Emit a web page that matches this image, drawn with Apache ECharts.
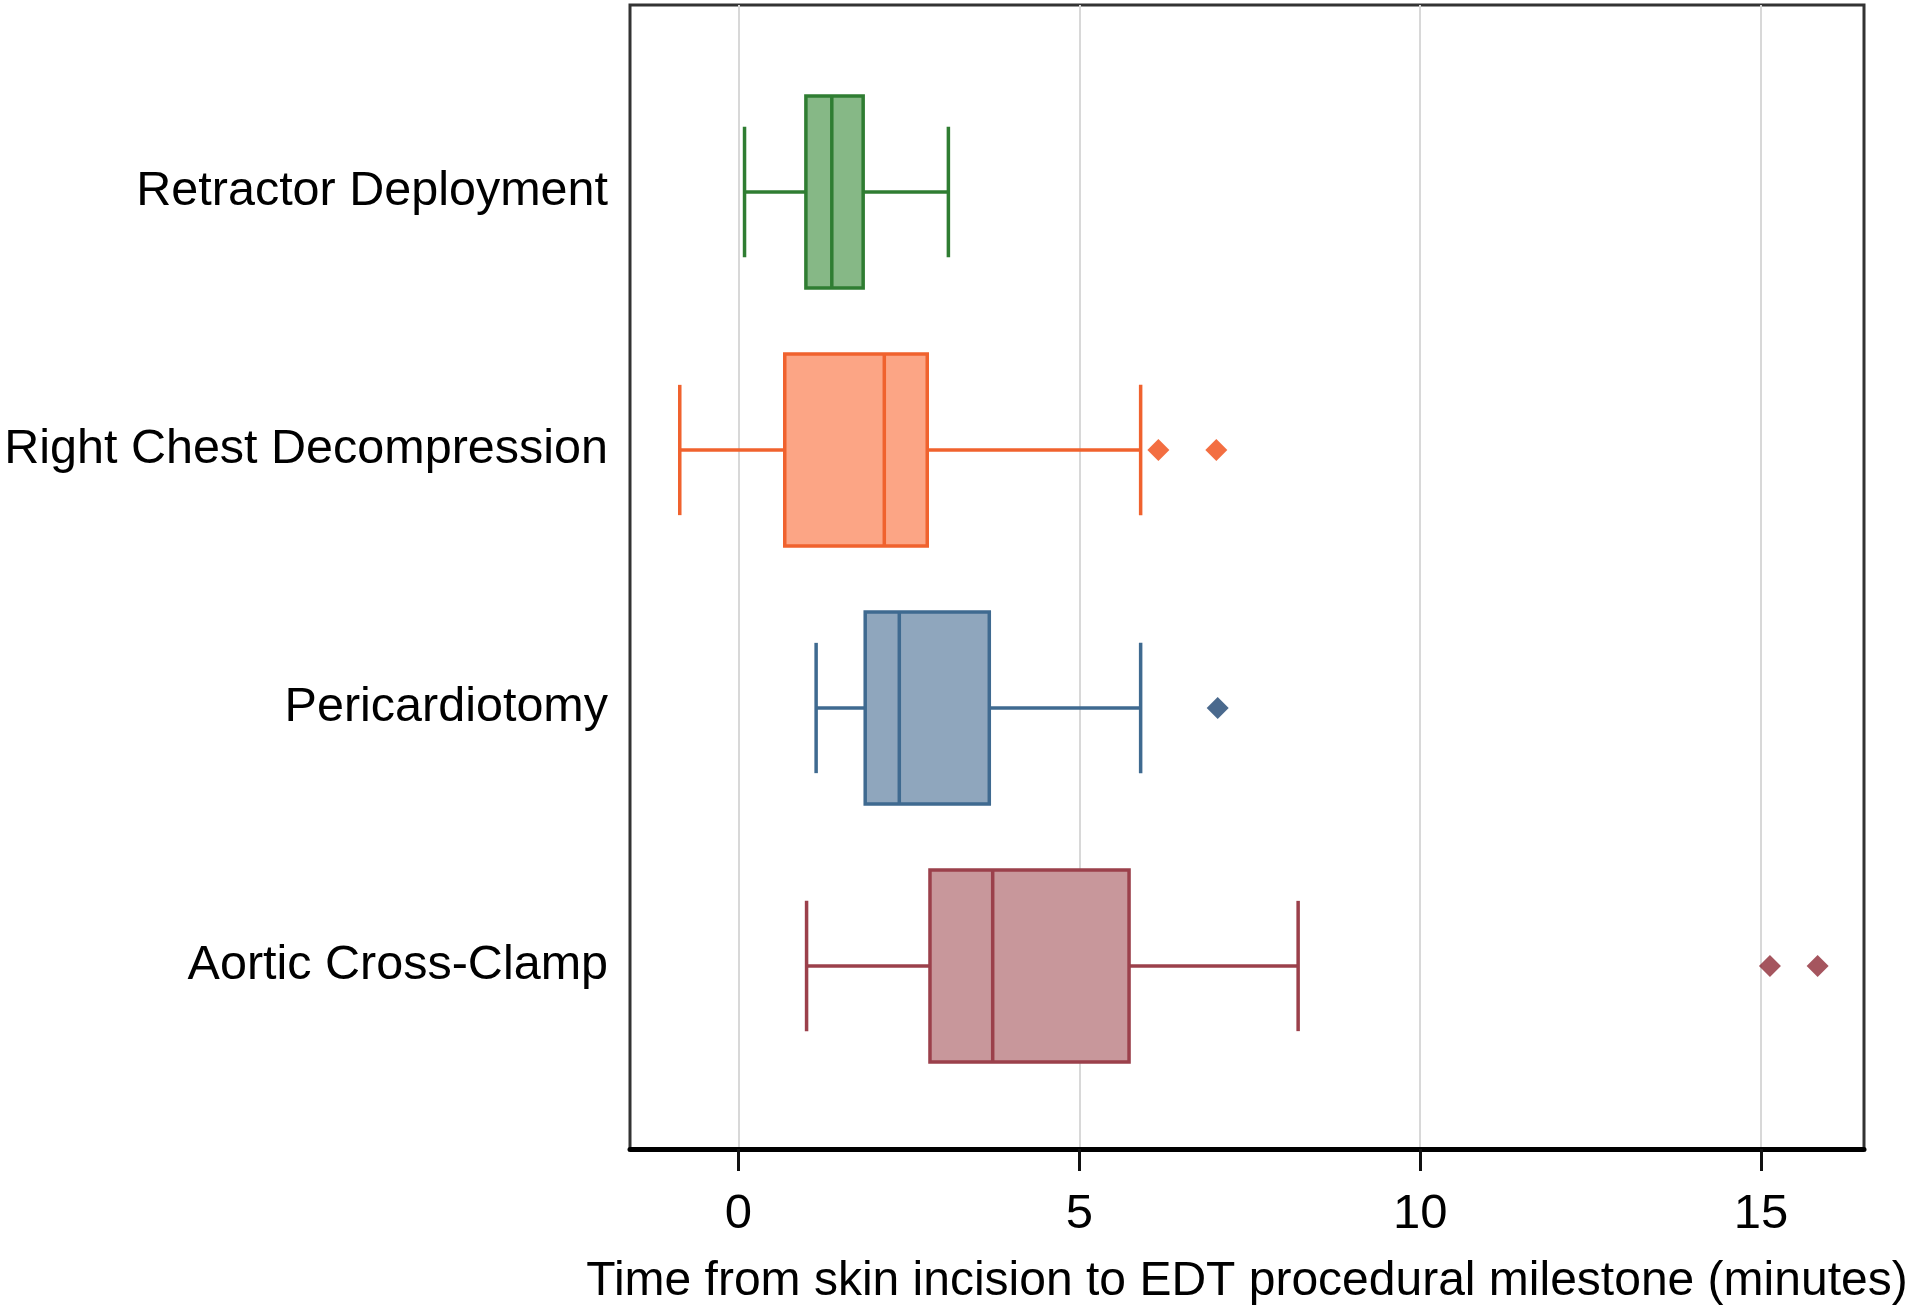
<!DOCTYPE html>
<html>
<head>
<meta charset="utf-8">
<script src="https://cdn.jsdelivr.net/npm/echarts@6/dist/echarts.min.js"></script>
<style>
html,body{margin:0;padding:0;background:#fff;}
#chart{width:1920px;height:1313px;}
</style>
</head>
<body>
<div id="chart"></div>
<script>
// ---- data ----
var categories = ['Retractor Deployment', 'Right Chest Decompression', 'Pericardiotomy', 'Aortic Cross-Clamp'];
var lowWhisker = [0.09, -0.86, 1.14, 1.00];
var q1 = [0.99, 0.68, 1.86, 2.81];
var median = [1.37, 2.14, 2.36, 3.73];
var q3 = [1.83, 2.77, 3.68, 5.73];
var highWhisker = [3.08, 5.90, 5.90, 8.21];
var outlierCat = [1, 1, 2, 3, 3];
var outlierVal = [6.16, 7.01, 7.03, 15.13, 15.83];
var xTicks = [0, 5, 10, 15];
var xTitle = 'Time from skin incision to EDT procedural milestone (minutes)';

// ---- styles ----
var fillColors = ['#86b886', '#fca585', '#8fa6bd', '#c8979b'];
var strokeColors = ['#2f7d32', '#f0622e', '#3f6a90', '#9b404b'];
var outlierColors = ['#2f7d32', '#f04a12', '#1d4470', '#8e2a36'];

var xMin = -1.59, xMax = 16.51;
var FONT = 'Liberation Sans, Arial, sans-serif';

var boxData = categories.map(function (c, i) {
  return [i, lowWhisker[i], q1[i], median[i], q3[i], highWhisker[i]];
});
var outlierData = outlierVal.map(function (v, i) {
  return { value: [v, outlierCat[i]], itemStyle: { color: outlierColors[outlierCat[i]] } };
});

function renderBox(params, api) {
  var ci = api.value(0);
  var idx = params.dataIndex;
  var pLow = api.coord([api.value(1), ci]);
  var pQ1 = api.coord([api.value(2), ci]);
  var pMed = api.coord([api.value(3), ci]);
  var pQ3 = api.coord([api.value(4), ci]);
  var pHigh = api.coord([api.value(5), ci]);
  var band = api.size([0, 1])[1];
  var boxH = band * 0.745;
  var capH = band * 0.505;
  var cy = pMed[1];
  var stroke = strokeColors[idx];
  var lw = 3.5;
  var ls = { stroke: stroke, lineWidth: lw };
  return {
    type: 'group',
    children: [
      { type: 'line', shape: { x1: pLow[0], y1: cy, x2: pQ1[0], y2: cy }, style: ls },
      { type: 'line', shape: { x1: pQ3[0], y1: cy, x2: pHigh[0], y2: cy }, style: ls },
      { type: 'line', shape: { x1: pLow[0], y1: cy - capH / 2, x2: pLow[0], y2: cy + capH / 2 }, style: ls },
      { type: 'line', shape: { x1: pHigh[0], y1: cy - capH / 2, x2: pHigh[0], y2: cy + capH / 2 }, style: ls },
      { type: 'rect', shape: { x: pQ1[0], y: cy - boxH / 2, width: pQ3[0] - pQ1[0], height: boxH },
        style: { fill: fillColors[idx], stroke: stroke, lineWidth: lw } },
      { type: 'line', shape: { x1: pMed[0], y1: cy - boxH / 2, x2: pMed[0], y2: cy + boxH / 2 }, style: ls }
    ]
  };
}

var chart = echarts.init(document.getElementById('chart'), null, { renderer: 'canvas' });
chart.setOption({
  backgroundColor: '#fff',
  animation: false,
  grid: [
    { left: 630, width: 1234, top: 63, height: 1032, show: false },
    { left: 630, width: 1234, top: 5, height: 1144, show: true, borderColor: '#333', borderWidth: 3, backgroundColor: 'transparent' }
  ],
  xAxis: [
    { gridIndex: 0, type: 'value', min: xMin, max: xMax, show: false, splitLine: { show: false } },
    {
      gridIndex: 1, type: 'value', min: xMin, max: xMax,
      axisLine: { show: true, onZero: false, lineStyle: { color: '#000', width: 5 } },
      axisTick: { show: true, length: 22, customValues: xTicks, lineStyle: { color: '#111', width: 3 } },
      axisLabel: { show: true, customValues: xTicks, margin: 41, fontSize: 49, fontFamily: FONT, color: '#000' },
      splitLine: { show: true, lineStyle: { color: '#d8d8d8', width: 2 } },
      name: xTitle, nameLocation: 'middle', nameGap: 109,
      nameTextStyle: { fontSize: 48, fontFamily: FONT, color: '#000' }
    }
  ],
  yAxis: [
    {
      gridIndex: 0, type: 'category', data: categories, inverse: true,
      axisLine: { show: false }, axisTick: { show: false }, splitLine: { show: false },
      axisLabel: { margin: 22, fontSize: 48.5, fontFamily: FONT, color: '#000' }
    },
    { gridIndex: 1, type: 'value', min: 0, max: 1, show: false, splitLine: { show: false } }
  ],
  series: [
    {
      type: 'custom', xAxisIndex: 0, yAxisIndex: 0,
      renderItem: renderBox,
      encode: { x: [1, 2, 3, 4, 5], y: 0 },
      data: boxData, z: 3
    },
    {
      type: 'scatter', xAxisIndex: 0, yAxisIndex: 0,
      symbol: 'diamond', symbolSize: 22,
      data: outlierData, z: 4
    }
  ]
});
</script>
</body>
</html>
